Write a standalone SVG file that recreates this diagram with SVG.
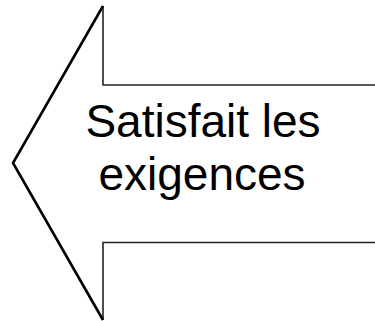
<svg xmlns="http://www.w3.org/2000/svg" width="375" height="321" viewBox="0 0 375 321">
<style>
.lbl{font-family:"Liberation Sans",Arial,sans-serif;font-size:46px;fill:#000;text-anchor:middle}
.thin{fill:none;stroke:#222;stroke-width:1.6}
.head{fill:none;stroke:#000;stroke-width:2.6;stroke-linejoin:miter}
</style>
<g id="arrow">
<path d="M376,85 L103,85 L103,6 L13,163 L103,320 L103,242.5 L376,242.5 Z" fill="#fff" stroke="none"/>
<path class="thin" d="M376,85 L103,85 L103,6 M103,320 L103,242.5 L376,242.5"/>
<path class="head" d="M103,6 L13,163 L103,320"/>
<text class="lbl" x="203" y="137">Satisfait les</text>
<text class="lbl" x="202" y="190">exigences</text>
</g>
</svg>
